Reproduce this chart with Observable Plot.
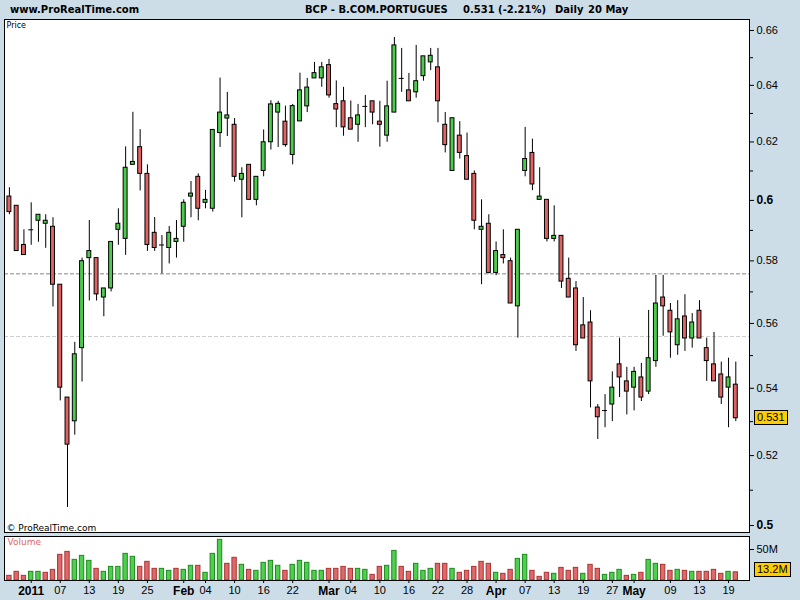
<!DOCTYPE html>
<html><head><meta charset="utf-8">
<script src="https://cdn.jsdelivr.net/npm/d3@7"></script>
<script src="https://cdn.jsdelivr.net/npm/@observablehq/plot@0.6"></script>
<style>
html,body{margin:0;padding:0;background:#ccdde8;}
#root{position:relative;width:800px;height:600px;background:#ccdde8;overflow:hidden;font-family:Arial,"Liberation Sans",sans-serif;}
.hdr{position:absolute;font-family:"DejaVu Sans",Verdana,sans-serif;font-weight:bold;font-size:10px;line-height:10px;color:#000;white-space:pre;}
.box{position:absolute;background:#ffcc00;border:1px solid #000;font-family:Arial,"Liberation Sans",sans-serif;font-size:11px;line-height:13px;padding:0 2px;color:#000;}
svg{position:absolute;left:0;overflow:visible;}
</style></head>
<body><div id="root"></div>
<script>
// ---- data (BCP, daily, 29 Dec 2010 - 20 May 2011) ----
const openP = [0.6013,0.5982,0.5852,0.5902,0.5932,0.5922,0.5912,0.5723,0.5372,0.5301,
0.5523,0.5809,0.5809,0.5682,0.5711,0.5902,0.5872,0.6121,0.6182,0.6090,
0.5892,0.5852,0.5842,0.5862,0.5912,0.6013,0.6080,0.5992,0.5972,0.6231,
0.6282,0.6260,0.6070,0.6121,0.6002,0.6100,0.6199,0.6303,0.6271,0.6155,
0.6272,0.6325,0.6425,0.6425,0.6473,0.6333,0.6343,0.6283,0.6260,0.6325,
0.6343,0.6271,0.6222,0.6303,0.6425,0.6382,0.6375,0.6433,0.6483,0.6465,
0.6260,0.6100,0.6222,0.6151,0.6090,0.5902,0.5922,0.5761,0.5819,0.5799,
0.5654,0.6100,0.6162,0.6002,0.6002,0.5872,0.5882,0.5742,0.5711,0.5594,
0.5603,0.5342,0.5333,0.5351,0.5473,0.5421,0.5402,0.5433,0.5390,0.5483,
0.5682,0.5640,0.5532,0.5622,0.5553,0.5640,0.5523,0.5473,0.5442,0.5402,
0.5411];
const highP = [0.6043,0.5982,0.5902,0.5992,0.5952,0.5952,0.5942,0.5723,0.5372,0.5541,
0.5809,0.5933,0.5809,0.5711,0.5862,0.5972,0.6183,0.6304,0.6243,0.6121,
0.5943,0.5883,0.5913,0.5933,0.6002,0.6064,0.6090,0.6034,0.6242,0.6426,
0.6375,0.6282,0.6111,0.6121,0.6080,0.6242,0.6345,0.6343,0.6326,0.6332,
0.6444,0.6425,0.6483,0.6483,0.6494,0.6416,0.6393,0.6344,0.6332,0.6364,
0.6343,0.6343,0.6415,0.6574,0.6534,0.6443,0.6545,0.6505,0.6534,0.6534,
0.6303,0.6283,0.6271,0.6231,0.6100,0.6002,0.5952,0.5862,0.5902,0.5809,
0.5902,0.6251,0.6210,0.6111,0.6002,0.5982,0.5882,0.5809,0.5733,0.5682,
0.5640,0.5351,0.5381,0.5450,0.5554,0.5464,0.5464,0.5476,0.5641,0.5753,
0.5753,0.5663,0.5672,0.5691,0.5631,0.5672,0.5554,0.5572,0.5480,0.5492,
0.5480];
const lowP = [0.5952,0.5832,0.5819,0.5851,0.5861,0.5841,0.5652,0.5362,0.5051,0.5260,
0.5419,0.5671,0.5671,0.5621,0.5700,0.5851,0.5818,0.6121,0.6032,0.5831,
0.5831,0.5758,0.5790,0.5809,0.5861,0.5942,0.5932,0.5972,0.5961,0.6181,
0.6219,0.6062,0.5942,0.6002,0.5982,0.6080,0.6172,0.6181,0.6182,0.6121,
0.6272,0.6303,0.6425,0.6393,0.6354,0.6250,0.6220,0.6243,0.6199,0.6250,
0.6260,0.6182,0.6199,0.6303,0.6375,0.6343,0.6354,0.6415,0.6453,0.6267,
0.6162,0.6100,0.6141,0.6070,0.5902,0.5723,0.5758,0.5752,0.5790,0.5663,
0.5554,0.6080,0.6033,0.6002,0.5862,0.5862,0.5711,0.5682,0.5513,0.5553,
0.5341,0.5247,0.5282,0.5300,0.5372,0.5320,0.5332,0.5360,0.5381,0.5464,
0.5560,0.5492,0.5501,0.5513,0.5523,0.5553,0.5421,0.5421,0.5351,0.5282,
0.5300];
const closeP = [0.5961,0.5832,0.5819,0.5902,0.5952,0.5932,0.5723,0.5402,0.5232,0.5504,
0.5799,0.5832,0.5692,0.5711,0.5862,0.5922,0.6111,0.6131,0.6090,0.5852,
0.5842,0.5852,0.5892,0.5872,0.5992,0.6023,0.5972,0.6002,0.6242,0.6303,
0.6293,0.6080,0.6090,0.6002,0.6080,0.6199,0.6332,0.6334,0.6189,0.6326,
0.6382,0.6392,0.6444,0.6465,0.6364,0.6314,0.6251,0.6243,0.6293,0.6325,
0.6303,0.6260,0.6325,0.6545,0.6425,0.6343,0.6415,0.6505,0.6507,0.6343,
0.6189,0.6283,0.6162,0.6070,0.5932,0.5912,0.5761,0.5832,0.5809,0.5663,
0.5902,0.6141,0.6054,0.6013,0.5872,0.5882,0.5733,0.5682,0.5532,0.5553,
0.5421,0.5313,0.5333,0.5402,0.5433,0.5390,0.5450,0.5372,0.5492,0.5663,
0.5654,0.5572,0.5613,0.5553,0.5603,0.5553,0.5483,0.5421,0.5372,0.5433,
0.5310];
// volume in millions of shares
const volumeM = [7.5,14.0,7.5,14.0,14.0,12.4,17.2,41.4,46.2,33.3,
39.8,31.7,18.8,14.0,22.0,22.0,43.0,38.2,22.0,30.1,
18.8,18.8,15.6,18.8,17.2,23.7,23.7,12.4,43.0,65.6,
26.9,36.6,25.3,17.2,15.6,28.5,31.7,23.7,15.6,25.3,
31.7,28.5,15.6,15.6,18.8,18.8,22.0,18.8,18.8,17.2,
9.1,22.0,23.7,47.8,22.0,14.0,26.9,15.6,18.8,26.9,
26.9,18.8,12.4,15.6,22.0,30.1,26.9,12.4,10.8,17.2,
34.9,41.4,15.6,5.9,12.4,10.8,20.4,15.6,20.4,10.8,
25.3,18.8,9.1,12.4,17.2,7.5,9.1,12.4,33.3,26.9,
25.3,15.6,17.2,15.6,14.0,14.0,14.0,17.2,10.8,14.0,
13.2];
// x tick positions (bar index) and labels
const tickIndex = [3,7,11,15,19,24,27,31,35,39,44,47,51,55,59,63,67,71,75,79,83,86,91,95,99];
const tickLabel = ["2011","07","13","19","25","Feb","04","10","16","22","Mar","04","10","16","22","28","Apr","07","13","19","27","May","09","13","19"];
const tickBold  = ["2011","Feb","Mar","Apr","May"];
// price axis ticks
const priceTicks = [0.52,0.54,0.56,0.58,0.62,0.64,0.66];
const priceTicksBold = [0.5,0.6];
const priceMinor = [0.51,0.53,0.55,0.57,0.59,0.61,0.63,0.65];
const volTicks = [50];
// horizontal reference levels
const levelDark = 0.5758;
const levelLight = 0.5559;
// header texts
const siteTitle = "www.ProRealTime.com";
const instrument = "BCP - B.COM.PORTUGUES";
const lastQuote = "0.531 (-2.21%)";
const period = "Daily";
const lastDate = "20 May";

// ---- drawing ----
const GREEN = "#4ccb4c", RED = "#e06262";
const VGREEN = "#4fcf4f", VRED = "#e06868", VGREEN_S = "#1e8a1e", VRED_S = "#a83434";
const idx = d3.range(closeP.length);
const xDomain = [-0.675, 101.886];
const sans = "Arial, 'Liberation Sans', sans-serif";
const dv = "'DejaVu Sans', Verdana, sans-serif";
const root = document.getElementById("root");

const price = Plot.plot({
  width: 800, height: 535,
  marginLeft: 4, marginRight: 51, marginTop: 19, marginBottom: 3,
  x: {domain: xDomain, axis: null},
  y: {type: "log", domain: [0.49805, 0.66408], axis: null},
  color: {type: "identity"},
  style: {background: "transparent", fontFamily: sans, color: "black", overflow: "visible"},
  marks: [
    Plot.frame({fill: "white", stroke: "none"}),
    Plot.ruleY([levelDark], {stroke: "#858585", strokeDasharray: "4,2"}),
    Plot.ruleY([levelLight], {stroke: "#cccccc", strokeDasharray: "4,2"}),
    Plot.ruleX(idx, {x: i => i, y1: i => lowP[i], y2: i => highP[i], stroke: "black", strokeWidth: 1}),
    Plot.rect(idx.filter(i => openP[i] !== closeP[i]), {
      x1: i => i - 0.27, x2: i => i + 0.27,
      y1: i => openP[i], y2: i => closeP[i],
      fill: i => closeP[i] > openP[i] ? GREEN : RED,
      stroke: "black", strokeWidth: 1
    }),
    Plot.ruleY(idx.filter(i => openP[i] === closeP[i]), {
      x1: i => i - 0.34, x2: i => i + 0.34, y: i => closeP[i], stroke: "black", strokeWidth: 1
    }),
    Plot.frame({stroke: "black", fill: "none"}),
    Plot.axisY(priceMinor, {anchor: "right", tickSize: 3, tickFormat: () => "", stroke: "black"}),
    Plot.axisY(priceTicks, {anchor: "right", tickSize: 4, tickPadding: 3, fontSize: 11, tickFormat: d => String(d), fill: "black", stroke: "black"}),
    Plot.axisY(priceTicksBold, {anchor: "right", tickSize: 4, tickPadding: 3, fontSize: 12, fontWeight: "bold", tickFormat: d => String(d), fill: "black", stroke: "black"}),
    Plot.text(["Price"], {frameAnchor: "top-left", dx: 2, dy: 3, fontSize: 8, fontFamily: dv, fill: "black"}),
    Plot.text(["© ProRealTime.com"], {frameAnchor: "bottom-left", dx: 2, dy: -2, fontSize: 9, fontFamily: dv, fill: "black"})
  ]
});
price.style.top = "0px";
root.appendChild(price);

const volColor = i => (i > 0 && closeP[i] >= closeP[i - 1]) ? "up" : "down";
const vol = Plot.plot({
  width: 800, height: 70,
  marginLeft: 4, marginRight: 51, marginTop: 6, marginBottom: 20,
  x: {domain: xDomain, axis: null},
  y: {domain: [0, 71], axis: null},
  color: {type: "identity"},
  style: {background: "transparent", fontFamily: sans, color: "black", overflow: "visible"},
  marks: [
    Plot.frame({fill: "white", stroke: "none"}),
    Plot.rect(idx, {
      x1: i => i - 0.3, x2: i => i + 0.3, y1: 0, y2: i => volumeM[i],
      fill: i => volColor(i) === "up" ? VGREEN : VRED,
      stroke: i => volColor(i) === "up" ? VGREEN_S : VRED_S, strokeWidth: 1
    }),
    Plot.frame({stroke: "black", fill: "none"}),
    Plot.axisY(volTicks, {anchor: "right", tickSize: 4, tickPadding: 3, fontSize: 11, tickFormat: d => d + "M", fill: "black", stroke: "black"}),
    Plot.axisX(tickIndex.filter((d, k) => !tickBold.includes(tickLabel[k])), {
      anchor: "bottom", tickSize: 3, tickPadding: 3, fontSize: 11,
      tickFormat: d => tickLabel[tickIndex.indexOf(d)], fill: "black", stroke: "black"
    }),
    Plot.axisX(tickIndex.filter((d, k) => tickBold.includes(tickLabel[k])), {
      anchor: "bottom", tickSize: 3, tickPadding: 2.5, fontSize: 12, fontWeight: "bold",
      tickFormat: d => tickLabel[tickIndex.indexOf(d)], fill: "black", stroke: "black"
    }),
    Plot.text(["Volume"], {frameAnchor: "top-left", dx: 3, dy: 2, fontSize: 9, fontFamily: dv, fill: "#e06666"})
  ]
});
vol.style.top = "530px";
root.appendChild(vol);

// header
function hdr(text, x) {
  const d = document.createElement("div");
  d.className = "hdr"; d.textContent = text;
  d.style.left = x + "px"; d.style.top = "5px";
  root.appendChild(d);
}
hdr(siteTitle, 10);
hdr(instrument, 305);
hdr(lastQuote, 463);
hdr(period, 555);
hdr(lastDate, 588);

// last value boxes, placed with the plots' own scales
const py = price.scale("y").apply(closeP[closeP.length - 1]);
const b1 = document.createElement("div");
b1.className = "box"; b1.textContent = String(closeP[closeP.length - 1]);
b1.style.left = "754px"; b1.style.top = (py - 8) + "px";
root.appendChild(b1);
const vy = vol.scale("y").apply(volumeM[volumeM.length - 1]);
const b2 = document.createElement("div");
b2.className = "box"; b2.textContent = volumeM[volumeM.length - 1] + "M";
b2.style.left = "754px"; b2.style.top = (530 + vy - 10) + "px";
root.appendChild(b2);
</script>
</body></html>
